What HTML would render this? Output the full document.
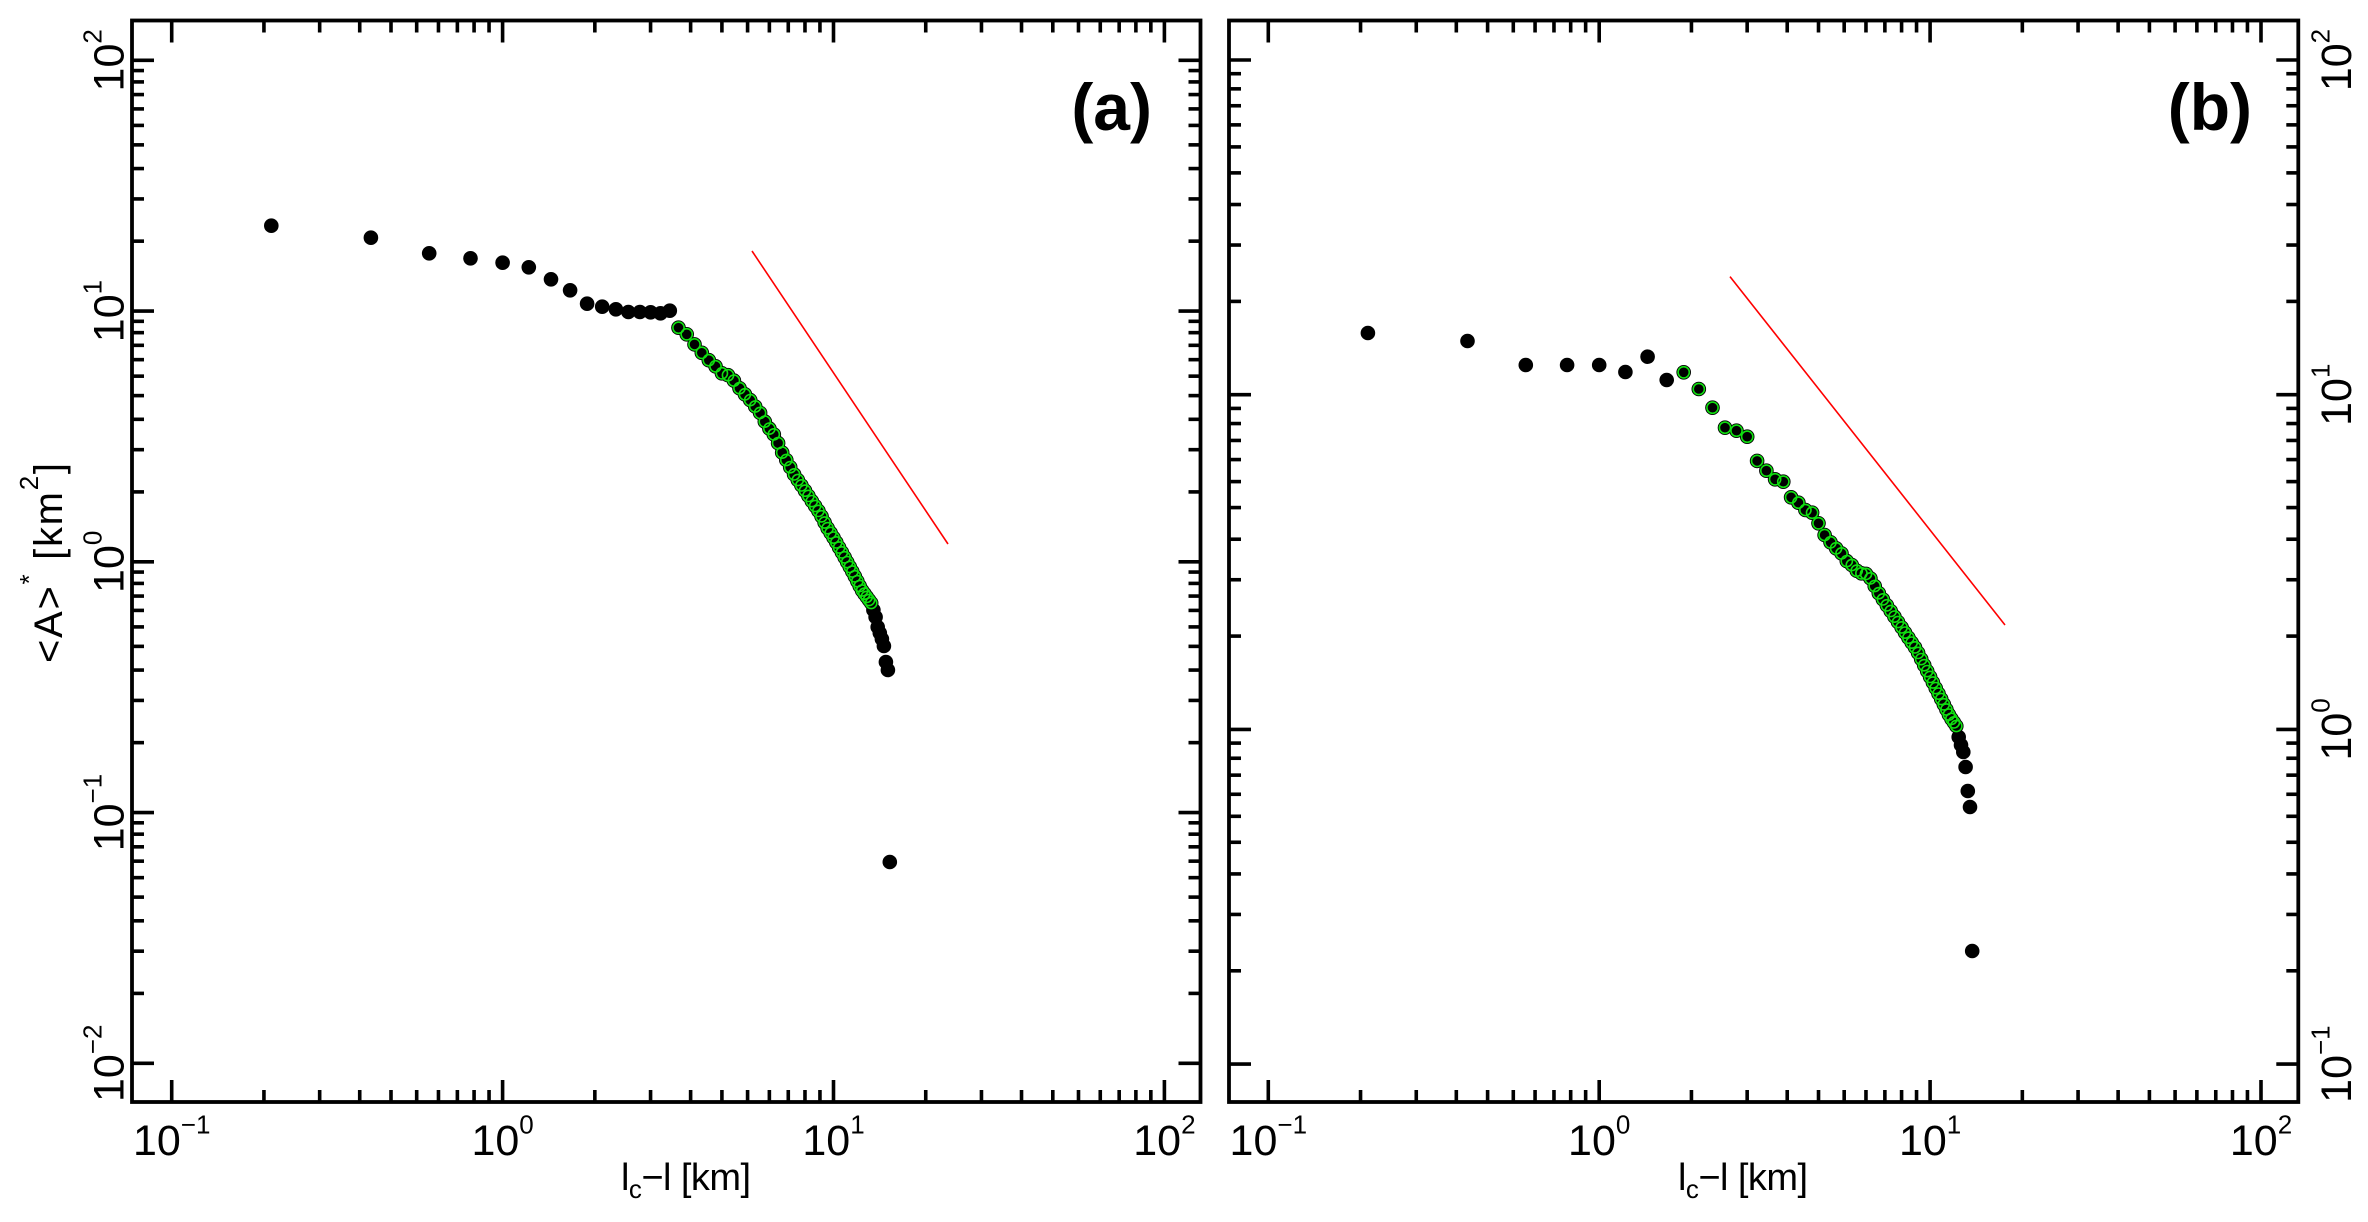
<!DOCTYPE html>
<html>
<head>
<meta charset="utf-8">
<style>
html,body{margin:0;padding:0;background:#fff;}
svg{display:block;}
text{font-family:"Liberation Sans",Arial,sans-serif;fill:#000;}
</style>
</head>
<body>
<svg id="s" width="2368" height="1222" viewBox="0 0 2368 1222" xmlns="http://www.w3.org/2000/svg">
<rect width="2368" height="1222" fill="#fff"/>
<g id="ticks" stroke="#000" stroke-width="3.6"></g>
<g id="data"></g>
<rect x="132" y="20.5" width="1068.5" height="1081.5" fill="none" stroke="#000" stroke-width="3.8"/>
<rect x="1229" y="20.5" width="1069.3" height="1081.5" fill="none" stroke="#000" stroke-width="3.8"/>
<line x1="752" y1="251" x2="948" y2="544" stroke="#ff0000" stroke-width="1.6"/>
<line x1="1730" y1="276.6" x2="2005" y2="625" stroke="#ff0000" stroke-width="1.6"/>

<!-- left x tick labels -->
<g font-size="43" text-anchor="middle">
<text x="171.7" y="1155">10<tspan dy="-21.7" font-size="26">−1</tspan></text>
<text x="502.6" y="1155">10<tspan dy="-21.7" font-size="26">0</tspan></text>
<text x="833.5" y="1155">10<tspan dy="-21.7" font-size="26">1</tspan></text>
<text x="1164.4" y="1155">10<tspan dy="-21.7" font-size="26">2</tspan></text>
<text x="1268.3" y="1155">10<tspan dy="-21.7" font-size="26">−1</tspan></text>
<text x="1599.2" y="1155">10<tspan dy="-21.7" font-size="26">0</tspan></text>
<text x="1930.1" y="1155">10<tspan dy="-21.7" font-size="26">1</tspan></text>
<text x="2261" y="1155">10<tspan dy="-21.7" font-size="26">2</tspan></text>
</g>
<!-- left y tick labels -->
<g font-size="43" text-anchor="middle">
<text transform="translate(123.3,60.3) rotate(-90)">10<tspan dy="-21.7" font-size="26">2</tspan></text>
<text transform="translate(123.3,311.05) rotate(-90)">10<tspan dy="-21.7" font-size="26">1</tspan></text>
<text transform="translate(123.3,561.8) rotate(-90)">10<tspan dy="-21.7" font-size="26">0</tspan></text>
<text transform="translate(123.3,812.55) rotate(-90)">10<tspan dy="-21.7" font-size="26">−1</tspan></text>
<text transform="translate(123.3,1063.3) rotate(-90)">10<tspan dy="-21.7" font-size="26">−2</tspan></text>
<text transform="translate(2351,60) rotate(-90)">10<tspan dy="-21.7" font-size="26">2</tspan></text>
<text transform="translate(2351,394.7) rotate(-90)">10<tspan dy="-21.7" font-size="26">1</tspan></text>
<text transform="translate(2351,729.4) rotate(-90)">10<tspan dy="-21.7" font-size="26">0</tspan></text>
<text transform="translate(2351,1064.1) rotate(-90)">10<tspan dy="-21.7" font-size="26">−1</tspan></text>
</g>
<!-- axis titles -->
<text transform="translate(62,563) rotate(-90)" text-anchor="middle" font-size="40" textLength="200" lengthAdjust="spacing">&lt;A&gt;<tspan dy="-24" font-size="26">*</tspan><tspan dy="24"> [km</tspan><tspan dy="-24" font-size="26">2</tspan><tspan dy="24">]</tspan></text>
<text x="621" y="1190" font-size="38" textLength="130" lengthAdjust="spacing">l<tspan dy="8" font-size="26">c</tspan><tspan dy="-8">−l [km]</tspan></text>
<text x="1678" y="1190" font-size="38" textLength="130" lengthAdjust="spacing">l<tspan dy="8" font-size="26">c</tspan><tspan dy="-8">−l [km]</tspan></text>
<!-- panel labels -->
<text x="1152" y="130" text-anchor="end" font-size="66" font-weight="bold">(a)</text>
<text x="2252" y="130" text-anchor="end" font-size="66" font-weight="bold">(b)</text>
</svg>
<script>
(function(){
var NS="http://www.w3.org/2000/svg";
var tg=document.getElementById("ticks");
var dg=document.getElementById("data");
function ln(g,x1,y1,x2,y2){var e=document.createElementNS(NS,"line");e.setAttribute("x1",x1);e.setAttribute("y1",y1);e.setAttribute("x2",x2);e.setAttribute("y2",y2);g.appendChild(e);}
function lg(v){return Math.log(v)/Math.LN10;}
var P=[
 {x0:132,x1:1200.5,y0:20.5,y1:1102,X:function(v){return 502.6+330.9*lg(v);},Y:function(a){return 561.8-250.75*lg(a);},xd:[-1,2],yd:[-2,2]},
 {x0:1229,x1:2298.3,y0:20.5,y1:1102,X:function(v){return 1599.2+330.9*lg(v);},Y:function(a){return 729.4-334.7*lg(a);},xd:[-1,2],yd:[-1,2]}
];
var MJ=22,MN=12;
P.forEach(function(p){
 for(var d=p.xd[0];d<=p.xd[1];d++){
  var b=Math.pow(10,d);
  var x=p.X(b);
  ln(tg,x,p.y1,x,p.y1-MJ);ln(tg,x,p.y0,x,p.y0+MJ);
  if(d<p.xd[1]){for(var j=1;j<=9;j++){var xx=p.X(b*(1+0.9*j));ln(tg,xx,p.y1,xx,p.y1-MN);ln(tg,xx,p.y0,xx,p.y0+MN);}}
 }
 for(var d=p.yd[0];d<=p.yd[1];d++){
  var b=Math.pow(10,d);
  var y=p.Y(b);
  ln(tg,p.x0,y,p.x0+MJ,y);ln(tg,p.x1,y,p.x1-MJ,y);
  if(d<p.yd[1]){for(var j=1;j<=9;j++){var yy=p.Y(b*(1+0.9*j));ln(tg,p.x0,yy,p.x0+MN,yy);ln(tg,p.x1,yy,p.x1-MN,yy);}}
 }
});
function interp(A,x){
 if(x<=A[0][0])return A[0][1];
 for(var i=0;i<A.length-1;i++){
  if(x<=A[i+1][0]){var t=(x-A[i][0])/(A[i+1][0]-A[i][0]);return A[i][1]+t*(A[i+1][1]-A[i][1]);}
 }
 return A[A.length-1][1];
}
var pts=[];
// left panel
var yl=[225.7,237.7,253.3,258.3,262.7,267.3,279.3,290.3,303.7,306.7,309.3,312,312,312.3,313.3,310.7];
var aL=[[678.5,327.7],[686.7,334.3],[692.3,342],[700,350.7],[707.3,359],[714.3,364.3],[719.3,372.7],[726.7,374.3],[732.3,378.3],[737.7,386],[743.3,392.7],[748.3,397.7],[754.3,405.3],[761.7,415],[766.7,425.7],[772.7,432.3],[776.7,440],[783.3,455],[788.3,463.3],[793.3,473.3],[800,483.3],[806.7,493.3],[813.3,503.3],[820,513.3],[826.7,526.7],[835,540],[843.3,555],[853.3,573.3],[861.7,590],[871.2,603]];
var tL=[610,617,627,633,639,646,662,670,862];
for(var k=1;k<=74;k++){
 var x=P[0].X(0.2*k),y,g=false;
 if(k<=16)y=yl[k-1];else if(k<=65){y=interp(aL,x);g=true;}else y=tL[k-66];
 pts.push([x,y,g]);
}
// right panel
var yr=[333,341,365,365,365,372,356.7,380];
var aR=[[1683.7,372.3],[1698.8,389],[1712.5,407.7],[1725,427.7],[1736.5,430.7],[1747.2,436.7],[1757.1,461],[1766.4,470.7],[1775.1,479.3],[1783.3,481.7],[1791,497.3],[1798.4,502.7],[1805.4,510],[1812.1,512.7],[1818.5,523.3],[1824.6,535],[1830.5,542.3],[1836.1,548.3],[1841.5,553.3],[1846.7,561],[1851.8,565],[1856.7,570.7],[1861.4,573.3],[1866.7,574],[1871.7,580],[1876.7,590],[1883.3,600],[1890,610],[1896.7,620],[1903.3,630],[1910,640],[1916.7,650],[1923.3,663.3],[1930,676.7],[1936.7,690],[1943.3,703.3],[1950,716.7],[1956.3,726]];
var tR=[737,745,752,767,791,807,951];
for(var k=1;k<=67;k++){
 var x=P[1].X(0.2*k),y,g=false;
 if(k<=8)y=yr[k-1];else if(k<=60){y=interp(aR,x);g=true;}else y=tR[k-61];
 pts.push([x,y,g]);
}
pts.forEach(function(p){var c=document.createElementNS(NS,"circle");c.setAttribute("cx",p[0].toFixed(1));c.setAttribute("cy",p[1].toFixed(1));c.setAttribute("r","7.3");c.setAttribute("fill","#000");dg.appendChild(c);});
pts.forEach(function(p){if(!p[2])return;var c=document.createElementNS(NS,"circle");c.setAttribute("cx",p[0].toFixed(1));c.setAttribute("cy",p[1].toFixed(1));c.setAttribute("r","5.6");c.setAttribute("fill","none");c.setAttribute("stroke","#10e010");c.setAttribute("stroke-width","1.6");dg.appendChild(c);});
})();
</script>
</body>
</html>
